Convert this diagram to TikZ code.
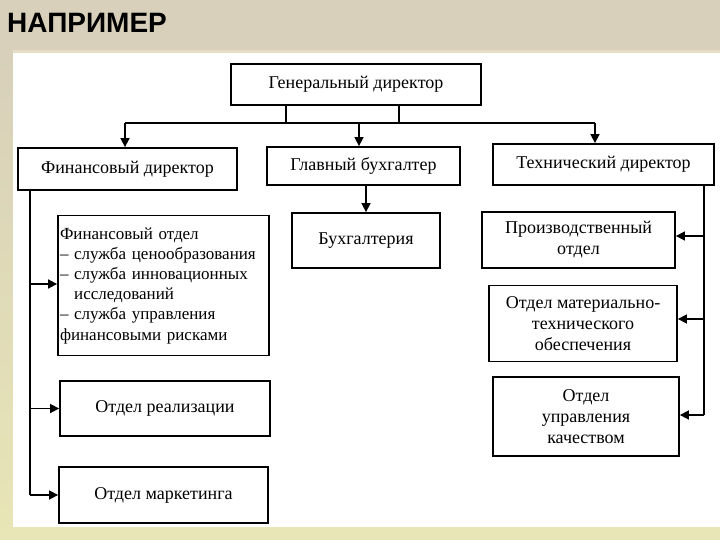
\documentclass[tikz,border=0pt]{standalone}
\usepackage{fontspec}
\setmainfont{Liberation Serif}
\newfontfamily\titlefont{Liberation Sans}
\usetikzlibrary{arrows.meta,calc}
\definecolor{beigetop}{HTML}{D8D0BA}
\definecolor{beigebot}{HTML}{E8E5B6}
\definecolor{beigeline}{HTML}{E6DDC4}
\tikzset{
  orgbox/.style={draw=black, line width=1.8pt, fill=white, inner sep=0pt, align=center,
    font=\fontsize{18}{21}\selectfont},
  conn/.style={line width=1.6pt, black},
  arr/.style={conn, -{Triangle[length=9pt,width=9pt]}},
}
\begin{document}
\begin{tikzpicture}[x=1pt,y=-1pt]
\useasboundingbox (0,0) rectangle (720,540);
% background
\fill[beigetop] (0,0) rectangle (720,540);
\shade[top color=beigetop, bottom color=beigebot] (0,52) rectangle (13,540);
\fill[beigebot] (0,527) rectangle (720,540);
\fill[beigeline] (13,50) rectangle (720,53);
\fill[white] (13,53) rectangle (720,527);
% title
\node[anchor=west, inner sep=0pt, font=\titlefont\bfseries\fontsize{28}{30}\selectfont] (title) at (7,23) {НАПРИМЕР};

% boxes
\node[orgbox, minimum width=250, minimum height=41] (gen) at (356,84.5) {Генеральный директор};
\node[orgbox, minimum width=219, minimum height=42] (fd) at (127.5,169) {Финансовый директор};
\node[orgbox, minimum width=193, minimum height=38] (gb) at (363.5,166) {Главный бухгалтер};
\node[orgbox, minimum width=221, minimum height=41] (td) at (603.5,164.5) {Технический директор};

\node[orgbox, minimum width=148, minimum height=55] (buh) at (366,240.5) {Бухгалтерия};

\node[orgbox, minimum width=211, minimum height=140, text width=207, align=left, inner xsep=2pt,
  font=\fontsize{17}{20.2}\selectfont] (fo) at (163.5,285.5)
  {Финансовый отдел\\
   – служба ценообразования\\
   – служба инновационных\\
   \hphantom{–} исследований\\
   – служба управления\\
   финансовыми рисками};
\node[orgbox, minimum width=210, minimum height=55] (real) at (165,408.5) {Отдел реализации};
\node[orgbox, minimum width=209, minimum height=56] (mark) at (163.5,495) {Отдел маркетинга};

\node[orgbox, minimum width=193, minimum height=56] (prod) at (578.5,240) {Производственный\\отдел};
\node[orgbox, minimum width=188, minimum height=76] (mto) at (583,323.5) {Отдел материально-\\технического\\обеспечения};
\node[orgbox, minimum width=186, minimum height=79] (kach) at (586,416.5) {Отдел\\управления\\качеством};

% top connectors
\coordinate (busA) at (286,123);
\coordinate (busB) at (399,123);
\coordinate (busL) at (125,123);
\coordinate (busM) at (359,123);
\coordinate (busR) at (595,123);
\draw[conn] (gen.south -| busA) -- (busA);
\draw[conn] (gen.south -| busB) -- (busB);
\draw[conn] (busL) -- (busR);
\draw[arr] (busL) -- (busL |- fd.north);
\draw[arr] (busM) -- (busM |- gb.north);
\draw[arr] (busR) -- (busR |- td.north);

% accounting
\draw[arr] (gb.south -| buh.north) -- (buh.north);

% left spine
\coordinate (lt) at (30,190);
\coordinate (lb) at (30,495);
\draw[conn] (fd.south -| lt) -- (lb);
\draw[arr] (30,284) -- (30,284 -| fo.west);
\draw[arr] (real.west -| lt) -- (real.west);
\draw[arr] (lb) -- (mark.west);

% right spine
\coordinate (rt) at (704,185);
\coordinate (rb) at (704,415);
\draw[conn] (td.south -| rt) -- (rb);
\draw[arr] (704,236) -- (704,236 -| prod.east);
\draw[arr] (704,319) -- (704,319 -| mto.east);
\draw[arr] (rb) -- (rb -| kach.east);
\end{tikzpicture}
\end{document}
